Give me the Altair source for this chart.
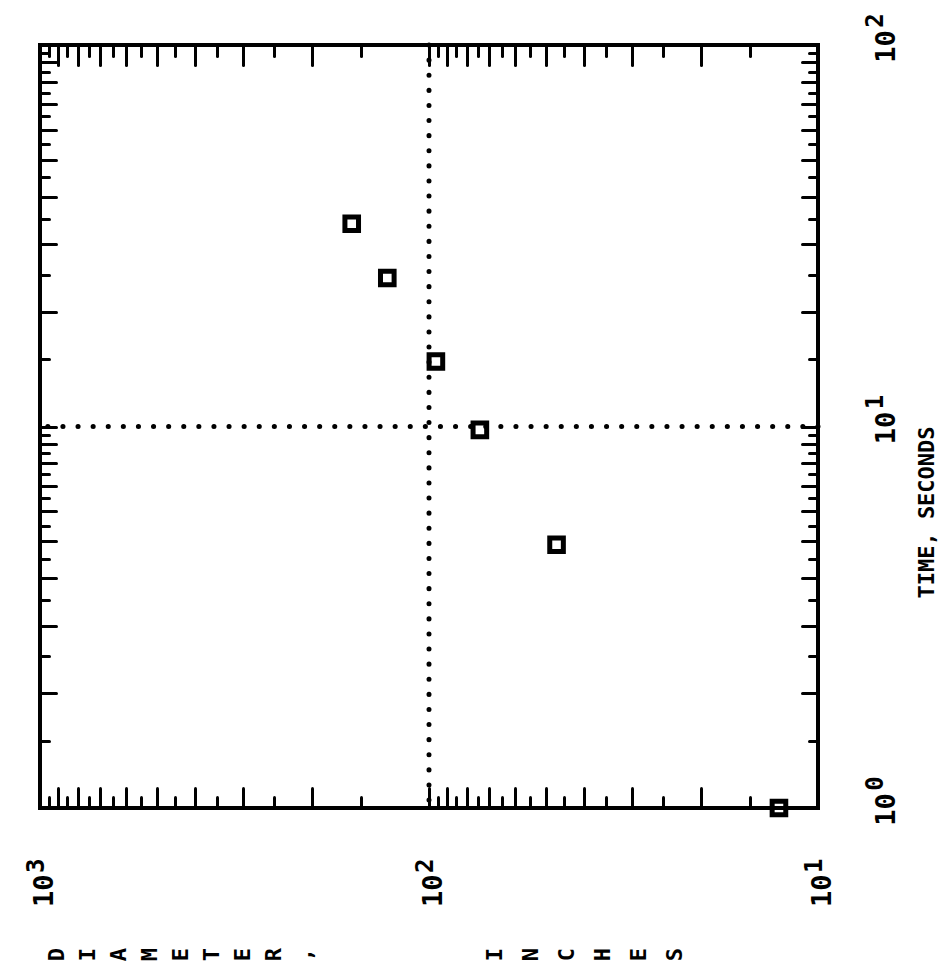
import altair as alt
import pandas as pd

# ---- data ----
diameter_in = [158, 128, 96, 74, 47, 12.6]
time_s = [34, 24.5, 14.8, 9.8, 4.9, 1.0]

diam_label_values = [1000, 100, 10]
diam_label_exp = ["3", "2", "1"]
time_label_values = [1, 10, 100]
time_label_exp = ["0", "1", "2"]
label_base = "10"

diam_major = [20, 30, 40, 50, 60, 70, 80, 90, 100, 200, 300, 400, 500, 600, 700, 800, 900]
diam_minor = [15, 25, 35, 45, 55, 65, 75, 85, 95, 150, 250, 350, 450, 550, 650, 750, 850, 950]
time_major = [2, 3, 4, 5, 6, 7, 8, 9, 10, 20, 30, 40, 50, 60, 70, 80, 90]
time_minor = [1.5, 2.5, 3.5, 4.5, 5.5, 6.5, 7.5, 8.5, 9.5, 15, 25, 35, 45, 55, 65, 75, 85, 95]
grid_diam = [100]
grid_time = [10]

x_title_part1 = "DIAMETER,"
x_title_part2 = "INCHES"
y_title = "TIME, SECONDS"

# ---- layout / style ----
W, H = 778, 763
FONT = "DejaVu Sans Mono"
LONG_X, SHORT_X = 20, 11
LONG_Y, SHORT_Y = 16, 9

df = pd.DataFrame({"D": diameter_in, "t": time_s})

xscale = alt.Scale(type="log", domain=[10, 1000], reverse=True, nice=False, zero=False)
yscale = alt.Scale(type="log", domain=[1, 100], nice=False, zero=False)


def exp_expr(values, exps):
    expr = "''"
    for v, e in zip(reversed(values), reversed(exps)):
        expr = f"abs(datum.value - {v}) < {v}*0.01 ? '{e}' : ({expr})"
    return expr


common_lab = dict(ticks=False, tickSize=0, domain=False, grid=False,
                  labelAngle=270, labelFlush=False, labelOverlap=False,
                  labelFont=FONT, labelFontWeight="bold", labelColor="black")
common_title = dict(titleAngle=270, titleFont=FONT, titleFontWeight="bold",
                    titleFontSize=22, titleColor="black")

# "10" part of the diameter labels + first half of the stacked title
x_base_axis = alt.Axis(
    orient="bottom", values=diam_label_values, labelExpr=f"'{label_base}'",
    labelAlign="right", labelBaseline="middle", labelPadding=66, labelOffset=4,
    labelFontSize=27,
    title=list(x_title_part1), titleAlign="center", titleBaseline="top",
    titleLineHeight=31, titleX=6, titleY=146,
    **common_lab, **common_title,
)
# raised exponent of the diameter labels + second half of the stacked title
x_exp_axis = alt.Axis(
    orient="bottom", values=diam_label_values,
    labelExpr=exp_expr(diam_label_values, diam_label_exp),
    labelAlign="right", labelBaseline="middle", labelPadding=50, labelOffset=-4,
    labelFontSize=24,
    title=list(x_title_part2), titleAlign="center", titleBaseline="top",
    titleLineHeight=36, titleX=444, titleY=146,
    **common_lab, **common_title,
)

y_base_axis = alt.Axis(
    orient="right", values=time_label_values, labelExpr=f"'{label_base}'",
    labelAlign="center", labelBaseline="top", labelPadding=55, labelOffset=1,
    labelFontSize=27,
    title=y_title, titleAlign="center", titleBaseline="middle",
    titleX=108, titleY=467,
    **common_lab, **common_title,
)
y_exp_axis = alt.Axis(
    orient="right", values=time_label_values,
    labelExpr=exp_expr(time_label_values, time_label_exp),
    labelAlign="center", labelBaseline="top", labelPadding=45, labelOffset=-25,
    labelFontSize=24, title=None,
    **common_lab,
)

points = alt.Chart(df).mark_point(
    shape="square", filled=False, size=185, strokeWidth=5, color="black", opacity=1
).encode(
    x=alt.X("D:Q", scale=xscale, axis=x_base_axis),
    y=alt.Y("t:Q", scale=yscale, axis=y_base_axis),
)

exponents = alt.Chart(df).mark_point(opacity=0).encode(
    x=alt.X("D:Q", scale=xscale, axis=x_exp_axis),
    y=alt.Y("t:Q", scale=yscale, axis=y_exp_axis),
)


def x_ticks(values, size, orient):
    return alt.Chart(df).mark_point(opacity=0).encode(
        x=alt.X("D:Q", scale=xscale, axis=alt.Axis(
            orient=orient, offset=-H, values=values, tickSize=size, tickWidth=3,
            tickColor="black", tickCap="round", labels=False, domain=False, grid=False, title=None)),
        y=alt.Y("t:Q", scale=yscale, axis=None),
    )


def y_ticks(values, size, orient):
    return alt.Chart(df).mark_point(opacity=0).encode(
        x=alt.X("D:Q", scale=xscale, axis=None),
        y=alt.Y("t:Q", scale=yscale, axis=alt.Axis(
            orient=orient, offset=-W, values=values, tickSize=size, tickWidth=3,
            tickColor="black", tickCap="round", labels=False, domain=False, grid=False, title=None)),
    )


grid_x = alt.Chart(pd.DataFrame({"D": grid_diam})).mark_rule(
    strokeDash=[0.1, 15], strokeCap="round", strokeWidth=5, color="black"
).encode(x=alt.X("D:Q", scale=xscale, axis=None))

grid_y = alt.Chart(pd.DataFrame({"t": grid_time})).mark_rule(
    strokeDash=[0.1, 15], strokeCap="round", strokeWidth=5, color="black"
).encode(y=alt.Y("t:Q", scale=yscale, axis=None))

chart = alt.layer(
    grid_x, grid_y,
    x_ticks(diam_major, LONG_X, "top"), x_ticks(diam_minor, SHORT_X, "top"),
    x_ticks(diam_major, LONG_X, "bottom"), x_ticks(diam_minor, SHORT_X, "bottom"),
    y_ticks(time_major, LONG_Y, "right"), y_ticks(time_minor, SHORT_Y, "right"),
    y_ticks(time_major, LONG_Y, "left"), y_ticks(time_minor, SHORT_Y, "left"),
    exponents,
    points,
).resolve_scale(x="shared", y="shared").resolve_axis(
    x="independent", y="independent"
).properties(
    width=W, height=H,
    autosize=alt.AutoSizeParams(type="none"),
    padding={"left": 32, "top": 37, "right": 120, "bottom": 165},
    background="white",
).configure_view(stroke="black", strokeWidth=4)

chart.save("out.html", embed_options={"renderer": "svg", "actions": False})
